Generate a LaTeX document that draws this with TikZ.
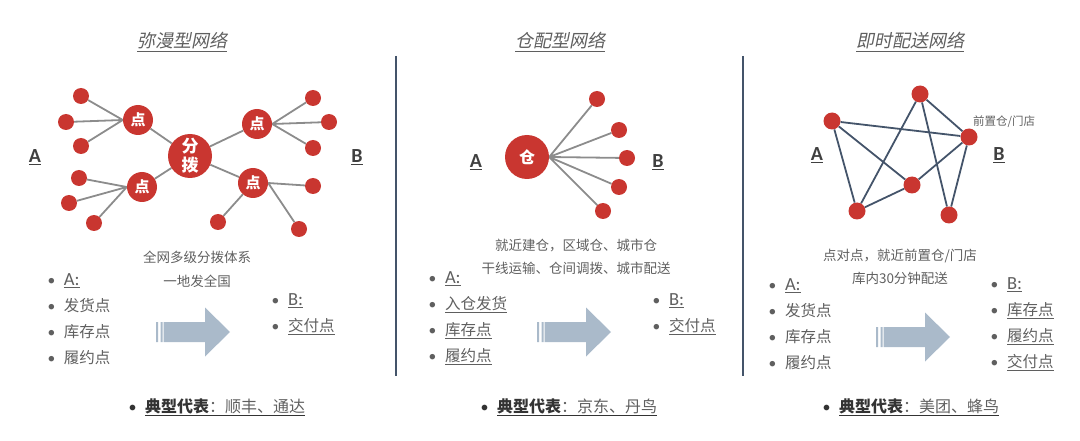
\documentclass[tikz,border=0pt]{standalone}
\usepackage{fontspec}
\setmainfont{Noto Sans CJK SC}
\newfontfamily\latin{Carlito}
\newfontfamily\slant[FakeSlant=0.2]{Noto Sans CJK SC}
\usetikzlibrary{backgrounds}
\definecolor{dotred}{RGB}{201,54,48}
\definecolor{spokegray}{RGB}{140,140,140}
\definecolor{slate}{RGB}{68,84,106}
\definecolor{txtgray}{RGB}{95,95,95}
\definecolor{arrowblue}{RGB}{170,186,202}
\newcommand{\bul}{\makebox[16.5pt][l]{\latin\textbullet}}
\newcommand{\ltr}[1]{\underline{\latin\fontsize{18.5}{26}\selectfont #1}}
\tikzset{
  hub/.style={circle, fill=dotred, minimum size=44pt, inner sep=0pt, text=white, align=center, font=\fontsize{17}{19}\selectfont\bfseries},
  pnt/.style={circle, fill=dotred, minimum size=30pt, inner sep=0pt, text=white, font=\fontsize{15}{15}\selectfont\bfseries},
  leaf/.style={circle, fill=dotred, minimum size=16pt, inner sep=0pt},
  spoke/.style={spokegray, line width=1.8pt},
  link/.style={slate, line width=1.8pt},
  heading/.style={text=txtgray, font=\fontsize{18}{20}\selectfont\slant},
  side/.style={text=black!75, font=\fontsize{20}{22}\selectfont\latin\bfseries},
  note/.style={text=txtgray, align=center, font=\fontsize{13.5}{23.5}\selectfont},
  items/.style={text=txtgray, align=left, anchor=west, inner sep=0pt, font=\fontsize{15.5}{26}\selectfont},
  brand/.style={text=txtgray, anchor=west, inner sep=0pt, font=\fontsize{16}{18}\selectfont},
  fatarrow/.pic={
    \fill[arrowblue] (0,-10) rectangle (2,10) (4.5,-10) rectangle (6.5,10)
      (7.5,-10) -- (49,-10) -- (49,-24.5) -- (74,0) -- (49,24.5) -- (49,10) -- (7.5,10) -- cycle;
  }
}
\begin{document}
\begin{tikzpicture}[x=1pt, y=-1pt]
    \useasboundingbox (0,0) rectangle (1080,441);
    % Separatori
    \draw [link] (396,56) -- (396,376);
    \draw [link] (743,56) -- (743,376);
    % Titoli
    \node [heading] (t1) at (182,42) {\underline{弥漫型网络}};
    \node [heading] (t2) at (560,42) {\underline{仓配型网络}};
    \node [heading] (t3) at (910,42) {\underline{即时配送网络}};
    % Rete 1
    \node [hub] (hubA) at (190,156) {分\\拨};
    \node [pnt] (pA1) at (138,120) {点};
    \node [pnt] (pA2) at (142,187) {点};
    \node [pnt] (pA3) at (257,124) {点};
    \node [pnt] (pA4) at (253,183) {点};
    \node [leaf] (a1) at (81,96) {};
    \node [leaf] (a2) at (66,122) {};
    \node [leaf] (a3) at (81,146) {};
    \node [leaf] (a4) at (79,178) {};
    \node [leaf] (a5) at (69,203) {};
    \node [leaf] (a6) at (94,223) {};
    \node [leaf] (a7) at (313,98) {};
    \node [leaf] (a8) at (329,122) {};
    \node [leaf] (a9) at (313,148) {};
    \node [leaf] (a10) at (313,186) {};
    \node [leaf] (a11) at (218,222) {};
    \node [leaf] (a12) at (299,229) {};
    \begin{scope}[on background layer]
        \draw [spoke] (hubA) -- (pA1) (hubA) -- (pA2) (hubA) -- (pA3) (hubA) -- (pA4);
        \draw [spoke] (pA1.west) -- (a1) (pA1.west) -- (a2) (pA1.west) -- (a3);
        \draw [spoke] (pA2.west) -- (a4) (pA2.west) -- (a5) (pA2.west) -- (a6);
        \draw [spoke] (pA3.east) -- (a7) (pA3.east) -- (a8) (pA3.east) -- (a9);
        \draw [spoke] (pA4.east) -- (a10) (pA4) -- (a11) (pA4.east) -- (a12);
    \end{scope}
    \node [side] (sA1) at (35,157) {\underline{A}};
    \node [side] (sB1) at (357,157) {\underline{B}};
    % Rete 2
    \node [hub, font=\fontsize{16}{16}\selectfont\bfseries] (hubB) at (527,157) {仓};
    \node [leaf] (b1) at (597,99) {};
    \node [leaf] (b2) at (619,130) {};
    \node [leaf] (b3) at (627,158) {};
    \node [leaf] (b4) at (619,187) {};
    \node [leaf] (b5) at (603,211) {};
    \begin{scope}[on background layer]
        \draw [spoke] (hubB.east) -- (b1) (hubB.east) -- (b2) (hubB.east) -- (b3) (hubB.east) -- (b4) (hubB.east) -- (b5);
    \end{scope}
    \node [side] (sA2) at (476,162) {\underline{A}};
    \node [side] (sB2) at (658,162) {\underline{B}};
    % Rete 3
    \node [leaf, minimum size=17pt] (cT) at (920,94) {};
    \node [leaf, minimum size=17pt] (cL) at (832,121) {};
    \node [leaf, minimum size=17pt] (cR) at (969,137) {};
    \node [leaf, minimum size=17pt] (cM) at (912,185) {};
    \node [leaf, minimum size=17pt] (cBL) at (857,211) {};
    \node [leaf, minimum size=17pt] (cBR) at (949,215) {};
    \draw [link] (cL) -- (cR) (cL) -- (cM) (cL) -- (cBL);
    \draw [link] (cT) -- (cBL) (cT) -- (cBR) (cT) -- (cR);
    \draw [link] (cR) -- (cM) (cR) -- (cBR) (cM) -- (cBL);
    \node [text=txtgray, anchor=west, inner sep=0pt, font=\fontsize{11.5}{12}\selectfont] (store) at (973,122) {前置仓/门店};
    \node [side] (sA3) at (817,155) {\underline{A}};
    \node [side] (sB3) at (999,155) {\underline{B}};
    % Testi
    \node [note] (n1) at (197,269.5) {全网多级分拨体系\\一地发全国};
    \node [note] (n2) at (576,257) {就近建仓，区域仓、城市仓\\干线运输、仓间调拨、城市配送};
    \node [note] (n3) at (900,267) {点对点，就近前置仓/门店\\库内30分钟配送};
    % Elenchi
    \node [items] (lA1) at (47.3,319) {\bul\ltr{A:}\\\bul 发货点\\\bul 库存点\\\bul 履约点};
    \node [items] (lB1) at (271.3,314) {\bul\ltr{B:}\\\bul\underline{交付点}};
    \node [items] (lA2) at (428.3,318.5) {\bul\ltr{A:}\\\bul\underline{入仓发货}\\\bul\underline{库存点}\\\bul\underline{履约点}};
    \node [items] (lB2) at (652.3,314) {\bul\ltr{B:}\\\bul\underline{交付点}};
    \node [items] (lA3) at (768.3,324.5) {\bul\ltr{A:}\\\bul 发货点\\\bul 库存点\\\bul 履约点};
    \node [items] (lB3) at (990.3,324.5) {\bul\ltr{B:}\\\bul\underline{库存点}\\\bul\underline{履约点}\\\bul\underline{交付点}};
    \pic at (156,332) {fatarrow};
    \pic at (537,332) {fatarrow};
    \pic at (876,337) {fatarrow};
    % Rappresentanti
    \node [brand] (r1) at (128.3,407) {\color{black!80}\bul\underline{\textbf{典型代表}\textcolor{txtgray}{：顺丰、通达}}};
    \node [brand] (r2) at (480.3,407) {\color{black!80}\bul\underline{\textbf{典型代表}\textcolor{txtgray}{：京东、丹鸟}}};
    \node [brand] (r3) at (822.3,407) {\color{black!80}\bul\underline{\textbf{典型代表}\textcolor{txtgray}{：美团、蜂鸟}}};
\end{tikzpicture}
\end{document}
